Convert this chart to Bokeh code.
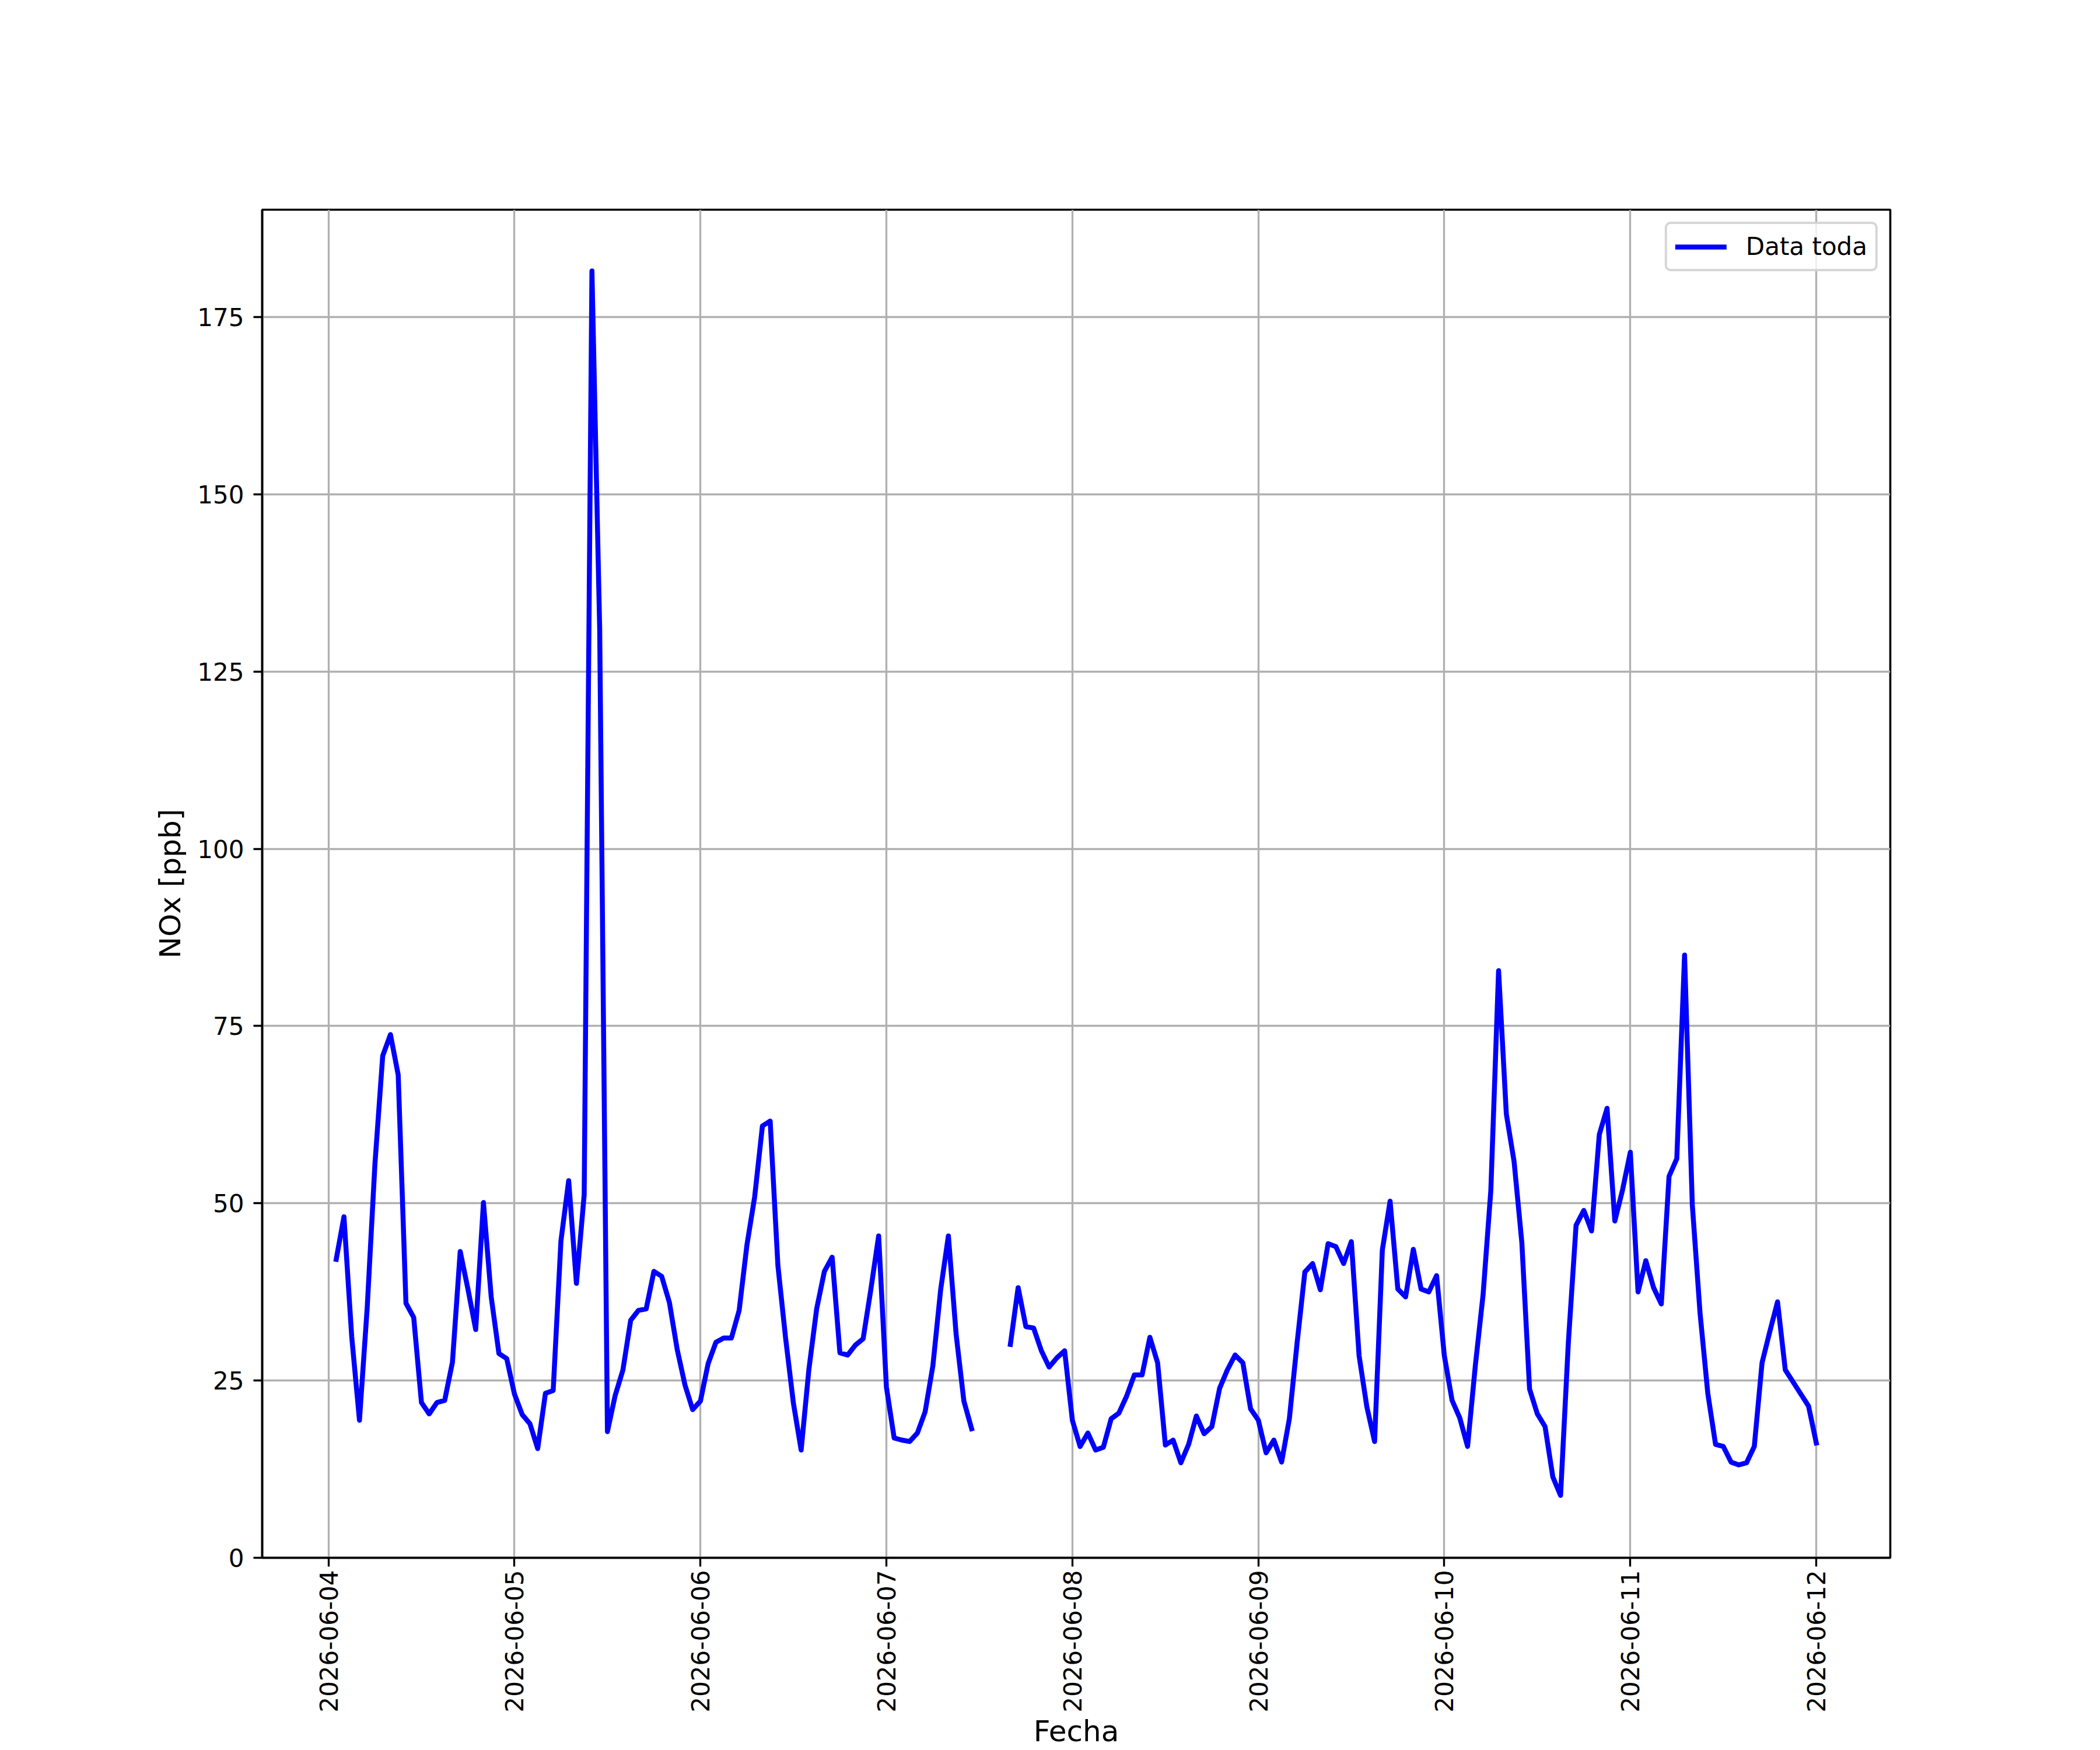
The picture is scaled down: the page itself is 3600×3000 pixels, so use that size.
import math
import numpy as np
import pandas as pd
from bokeh.plotting import figure
from bokeh.models import (ColumnDataSource, Range1d, FixedTicker, DatetimeTickFormatter)
from bokeh.embed import file_html
from bokeh.resources import INLINE

# ---------------- data (hourly NOx, ppb) ----------------
start_time = "2026-06-04 01:00"
day_04 = [42.1, 48.1, 31.2, 19.4, 35.3, 55.6, 70.8, 73.8, 68.1, 35.9, 33.9, 21.9,
          20.3, 21.9, 22.2, 27.6, 43.2, 37.9, 32.2, 50.1, 36.8, 28.8, 28.1, 23.1]
day_05 = [20.2, 18.9, 15.4, 23.2, 23.6, 44.7, 53.2, 38.7, 51.2, 181.5, 131.0, 17.8,
          22.9, 26.5, 33.5, 34.9, 35.1, 40.4, 39.7, 36.0, 29.4, 24.4, 20.9, 22.1]
day_06 = [27.4, 30.4, 31.0, 31.0, 34.9, 44.1, 50.9, 60.9, 61.6, 41.2, 30.9, 21.8,
          15.2, 26.6, 35.1, 40.4, 42.4, 28.9, 28.6, 30.0, 30.9, 37.9, 45.4, 24.1]
day_07 = [16.9, 16.6, 16.4, 17.6, 20.6, 27.1, 37.8, 45.4, 31.5, 22.1, 18.2, None,
          None, None, None, 30.1, 38.1, 32.6, 32.4, 29.2, 26.9, 28.2, 29.2, 19.4]
day_08 = [15.7, 17.6, 15.2, 15.6, 19.6, 20.4, 22.8, 25.8, 25.8, 31.1, 27.5, 15.9,
          16.6, 13.4, 16.0, 20.0, 17.5, 18.5, 23.9, 26.5, 28.6, 27.5, 21.0, 19.4]
day_09 = [14.8, 16.6, 13.5, 19.6, 30.3, 40.3, 41.5, 37.8, 44.3, 43.9, 41.5, 44.6,
          28.5, 21.3, 16.4, 43.4, 50.3, 37.9, 36.8, 43.5, 37.9, 37.5, 39.8, 28.5]
day_10 = [22.2, 19.7, 15.7, 27.1, 37.1, 51.8, 82.8, 62.6, 55.9, 44.5, 23.8, 20.3,
          18.5, 11.4, 8.8, 30.3, 46.9, 49.0, 46.1, 59.7, 63.4, 47.5, 51.9, 57.2]
day_11 = [37.5, 41.9, 38.1, 35.8, 53.8, 56.3, 85.0, 49.8, 34.5, 23.2, 16.0, 15.7,
          13.5, 13.1, 13.4, 15.7, 27.5, 31.9, 36.1, 26.5, 24.8, 23.1, 21.4, 16.2]

tick_days = ["2026-06-04", "2026-06-05", "2026-06-06", "2026-06-07", "2026-06-08",
             "2026-06-09", "2026-06-10", "2026-06-11", "2026-06-12"]
y_ticks = [0, 25, 50, 75, 100, 125, 150, 175]
series_label = "Data toda"
x_label = "Fecha"
y_label = "NOx [ppb]"

# ---------------- build ----------------
values = []
for d in [day_04, day_05, day_06, day_07, day_08, day_09, day_10, day_11]:
    values += [np.nan if v is None else v for v in d]
values = np.array(values, dtype=float)
times = pd.date_range(start_time, periods=len(values), freq="h")
source = ColumnDataSource(dict(t=times.values, v=values))

span = times[-1] - times[0]
x_start = times[0] - 0.05 * span
x_end = times[-1] + 0.05 * span
vmin, vmax = np.nanmin(values), np.nanmax(values)
y_top = vmax + 0.05 * (vmax - vmin)

W, H = 3600, 3000
ML, MR, MT, MB = 449, 360, 359, 330

p = figure(width=W, height=H, x_axis_type="datetime", output_backend="svg",
           toolbar_location=None,
           x_range=Range1d(x_start, x_end), y_range=Range1d(0, y_top),
           min_border_left=ML, min_border_right=MR, min_border_top=MT,
           min_border_bottom=MB)
p.background_fill_color = "white"
p.border_fill_color = "white"
p.outline_line_color = "black"
p.outline_line_width = 3.6

p.line(x="t", y="v", source=source, line_color="#0000ff", line_width=8.5,
       line_join="round", line_cap="square", legend_label=series_label)

# axes
tick_ms = [pd.Timestamp(d).value / 1e6 for d in tick_days]
p.xaxis.ticker = FixedTicker(ticks=tick_ms)
fmt = "%Y-%m-%d"
p.xaxis.formatter = DatetimeTickFormatter(hours=fmt, days=fmt, months=fmt, years=fmt,
                                          minutes=fmt, hourmin=fmt)
p.xaxis.major_label_orientation = math.pi / 2
p.yaxis.ticker = FixedTicker(ticks=y_ticks)

for ax in (p.xaxis[0], p.yaxis[0]):
    ax.axis_line_color = "black"
    ax.axis_line_width = 3.6
    ax.major_tick_line_color = "black"
    ax.major_tick_line_width = 3.33
    ax.major_tick_out = 15
    ax.major_tick_in = 0
    ax.minor_tick_line_color = None
    ax.major_label_text_font = "DejaVu Sans"
    ax.major_label_text_font_size = "42px"
    ax.major_label_text_color = "black"
    ax.major_label_standoff = 16
    ax.axis_label_text_font = "DejaVu Sans"
    ax.axis_label_text_font_size = "50px"
    ax.axis_label_text_font_style = "normal"
    ax.axis_label_text_color = "black"

p.xaxis.axis_label = x_label
p.xaxis.major_label_standoff = 6
p.xaxis.axis_label_standoff = 0
p.xaxis.axis_label_text_line_height = 1.0
p.yaxis.axis_label = y_label
p.yaxis.axis_label_standoff = 14

p.xgrid.ticker = FixedTicker(ticks=tick_ms)
p.ygrid.ticker = FixedTicker(ticks=y_ticks)
for g in (p.xgrid[0], p.ygrid[0]):
    g.grid_line_color = "#b0b0b0"
    g.grid_line_width = 3.33

# legend
lg = p.legend[0]
lg.location = "top_right"
lg.margin = 21
lg.padding = 14
lg.spacing = 0
lg.glyph_width = 88
lg.glyph_height = 48
lg.label_height = 48
lg.label_standoff = 33
lg.label_text_font = "DejaVu Sans"
lg.label_text_font_size = "42px"
lg.label_text_color = "black"
lg.border_line_color = "#cccccc"
lg.border_line_alpha = 0.8
lg.border_line_width = 4
lg.background_fill_color = "white"
lg.background_fill_alpha = 0.8
try:
    lg.border_radius = 10
except Exception:
    pass

open("out.html", "w").write(file_html(p, INLINE, title="NOx"))
